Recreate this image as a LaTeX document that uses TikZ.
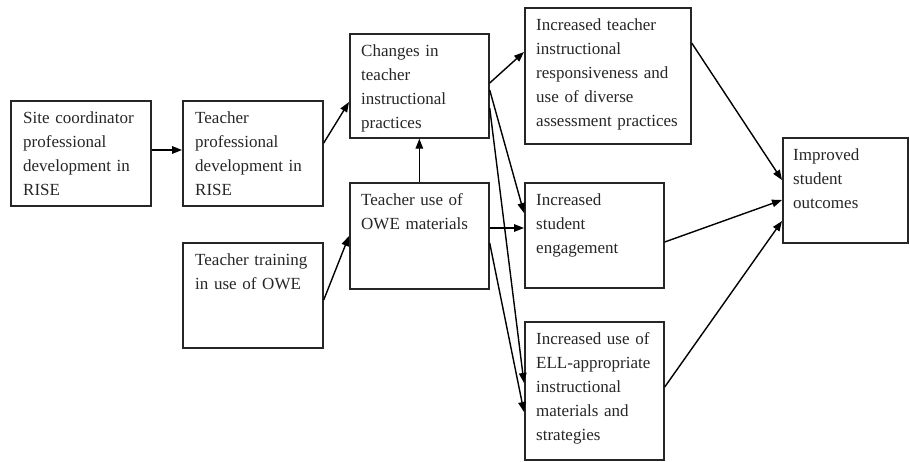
\documentclass[tikz,border=0pt]{standalone}
\usepackage{fontspec}
\setmainfont{Liberation Serif}
\usetikzlibrary{arrows.meta,calc}
\begin{document}
\begin{tikzpicture}[x=1pt,y=-1pt,
  box/.style={draw=black!85,line width=1.7pt,rectangle,inner sep=0pt,anchor=north west},
  lbl/.style={anchor=base west,inner sep=0pt,align=left,text=black!85,
    font=\fontsize{17}{24}\selectfont},
  arr/.style={line width=1.4pt,-{Triangle[length=10pt,width=7.5pt]}}]
\useasboundingbox (0,0) rectangle (910,461);
% boxes
\node[box,minimum width=140pt,minimum height=105pt] (A) at (10,100) {};
\node[box,minimum width=140pt,minimum height=105pt] (B) at (182,100) {};
\node[box,minimum width=139pt,minimum height=104pt] (C) at (349,33) {};
\node[box,minimum width=139pt,minimum height=106pt] (D) at (349,182) {};
\node[box,minimum width=140pt,minimum height=105pt] (E) at (182,242) {};
\node[box,minimum width=166pt,minimum height=136pt] (F) at (524,7) {};
\node[box,minimum width=139pt,minimum height=105pt] (G) at (524,182) {};
\node[box,minimum width=139pt,minimum height=138pt] (H) at (524,321) {};
\node[box,minimum width=125pt,minimum height=105pt] (I) at (782,137) {};
% texts
\node[lbl,text width=130pt] (tA) at ($(A.north west)+(13,23.5)$) {Site coordinator\\professional\\development in\\RISE};
\node[lbl,text width=130pt] (tB) at ($(B.north west)+(13,23.5)$) {Teacher\\professional\\development in\\RISE};
\node[lbl,text width=130pt] (tC) at ($(C.north west)+(12,23.5)$) {Changes in\\teacher\\instructional\\practices};
\node[lbl,text width=130pt] (tD) at ($(D.north west)+(12,23.5)$) {Teacher use of\\OWE materials};
\node[lbl,text width=130pt] (tE) at ($(E.north west)+(13,23.5)$) {Teacher training\\in use of OWE};
\node[lbl,text width=160pt] (tF) at ($(F.north west)+(12,23.5)$) {Increased teacher\\instructional\\responsiveness and\\use of diverse\\assessment practices};
\node[lbl,text width=130pt] (tG) at ($(G.north west)+(12,23.5)$) {Increased\\student\\engagement};
\node[lbl,text width=130pt] (tH) at ($(H.north west)+(12,23.5)$) {Increased use of\\ELL-appropriate\\instructional\\materials and\\strategies};
\node[lbl,text width=115pt] (tI) at ($(I.north west)+(11,23.5)$) {Improved\\student\\outcomes};
% connectors
\draw[arr] ($(A.north east)+(0,50)$) -- ($(B.north west)+(0,50)$);
\draw[arr] ($(B.north east)+(0,43)$) -- ($(C.north west)+(0,69)$);
\draw[arr] (D.north) -- (C.south);
\draw[arr] ($(E.north east)+(0,58)$) -- ($(D.north west)+(0,54)$);
\draw[arr] ($(C.north east)+(0,50)$) -- ($(F.north west)+(0,45)$);
\draw[arr] ($(C.north east)+(0,57)$) -- ($(G.north west)+(0,31)$);
\draw[arr] ($(C.north east)+(0,75)$) -- ($(H.north west)+(0,62)$);
\draw[arr] ($(D.north east)+(0,46)$) -- ($(G.north west)+(0,46)$);
\draw[arr] ($(D.north east)+(0,61)$) -- ($(H.north west)+(0,91)$);
\draw[arr] ($(F.north east)+(0,36)$) -- ($(I.north west)+(0,43)$);
\draw[arr] ($(G.north east)+(0,60)$) -- ($(I.north west)+(0,63)$);
\draw[arr] ($(H.north east)+(0,66)$) -- ($(I.north west)+(0,84)$);
\end{tikzpicture}
\end{document}
